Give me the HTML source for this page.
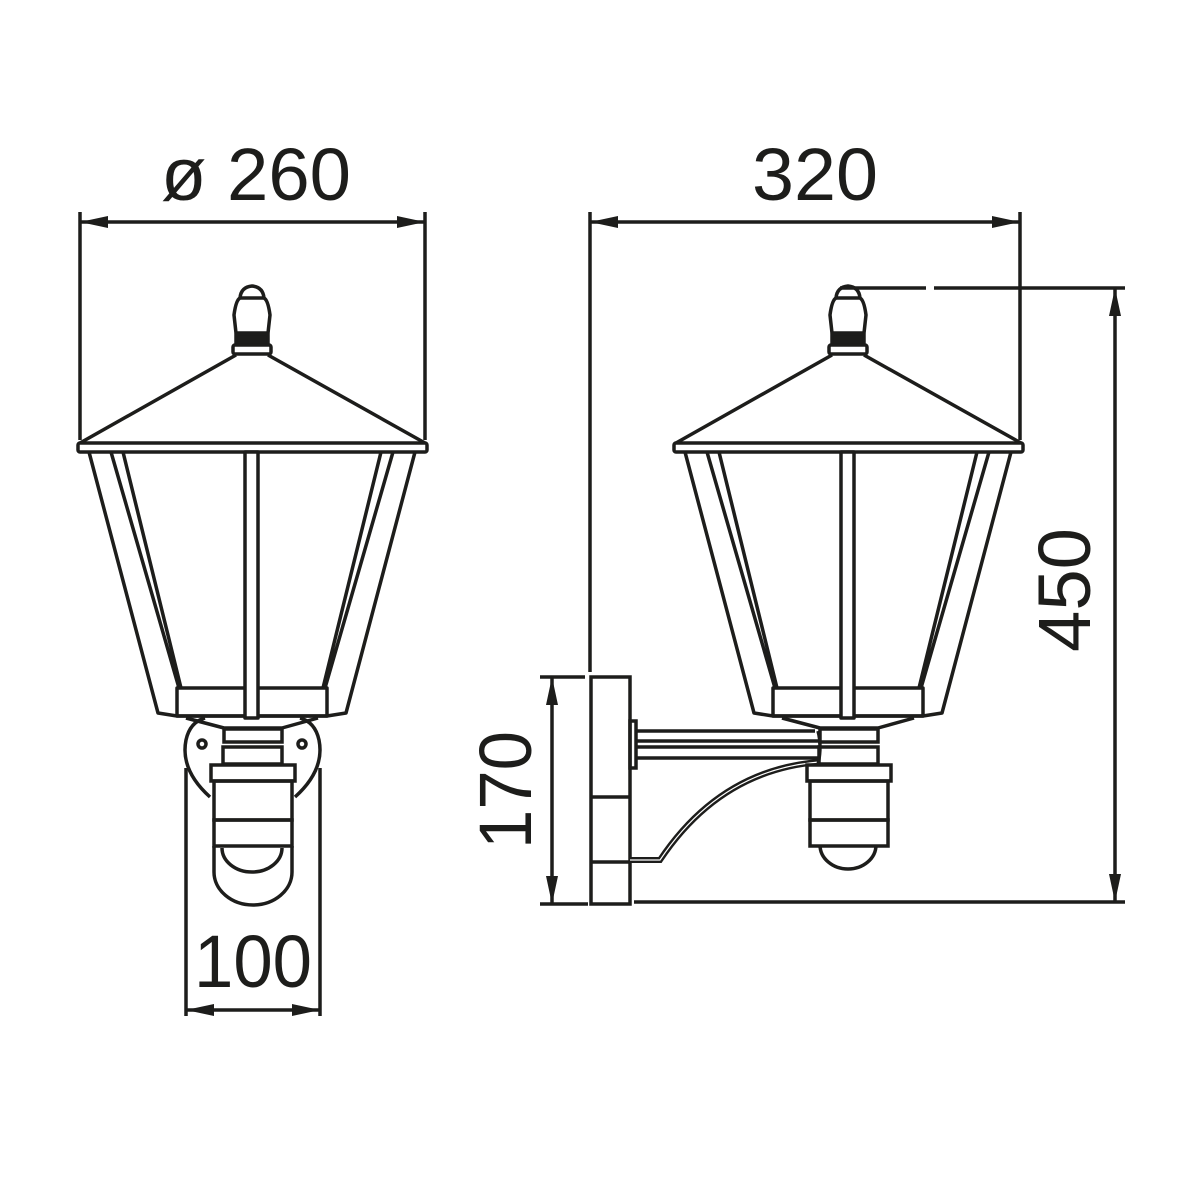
<!DOCTYPE html>
<html><head><style>html,body{margin:0;padding:0;background:#fff}svg{display:block}</style></head>
<body>
<svg width="1200" height="1200" viewBox="0 0 1200 1200" xmlns="http://www.w3.org/2000/svg">
<defs>
<g id="head" fill="none" stroke="#1d1d1b" stroke-width="3.5" stroke-linejoin="round">
  <path d="M236,333 L234,315 Q236,300 240,298 L264,298 Q268,300 270,315 L268,333 Z" fill="#fff"/>
  <path d="M240,298 Q241,287 252,286 Q263,287 264,298"/>
  <rect x="236" y="334" width="32" height="11" fill="#1d1d1b"/>
  <rect x="233" y="345" width="38" height="9" rx="2" fill="#fff"/>
  <path d="M236,355 L80,443 M268,355 L425,443"/>
  <rect x="78" y="443" width="349" height="9" rx="2" fill="#fff"/>
  <path d="M89,452 L158,713 L177,716 L327,716 L346,713 L415,452"/>
  <path d="M111,452 L179,688 M123,452 L181,688 M393,452 L325,688 M381,452 L323,688"/>
  <rect x="177" y="688" width="150" height="28"/>
  <rect x="245" y="452" width="13" height="266" fill="#fff"/>
  <path d="M186,718 L224,728 L282,728 L318,718"/>
</g>
<g id="sens" fill="none" stroke="#1d1d1b" stroke-width="3.5">
  <rect x="224" y="729" width="58" height="13"/>
  <rect x="223" y="747" width="59" height="17"/>
  <rect x="211" y="765" width="84" height="16" fill="#fff"/>
  <rect x="214" y="781" width="78" height="39"/>
  <rect x="214" y="820" width="78" height="26"/>
</g>
</defs>
<g fill="none" stroke="#1d1d1b" stroke-width="3.5">
  <!-- left sensor plate -->
  <path d="M210,797 Q180,770 186,740 Q190,722 205,718 M295,797 Q325,770 319,740 Q315,722 300,718"/>
  <circle cx="202" cy="744" r="4"/><circle cx="302" cy="744" r="4"/>
  <path d="M214,846 L214,872 A39,33 0 0 0 292,872 L292,846"/>
  <path d="M222,848 A30,24 0 0 0 282,848"/>
  <!-- right bracket -->
  <rect x="591" y="677" width="39" height="227"/>
  <path d="M591,797 L630,797 M591,862 L630,862"/>
  <rect x="630" y="721" width="6" height="47"/>
  <path d="M636,731 L815,731 M636,741 L820,741 M636,747 L820,747 M636,758 L818,758"/>
  <path d="M819,762 Q720,770 660,860 L630,860" stroke-width="6"/>
  <path d="M819,762 Q720,770 660,860 L630,860" stroke="#fff" stroke-width="1.2"/>
  <path d="M818,731 Q822,745 818,765"/>
  <path d="M820,845 A28,24 0 0 0 876,845"/>
</g>
<use href="#head"/>
<use href="#head" transform="translate(596,0)"/>
<use href="#sens"/>
<use href="#sens" transform="translate(596,0)"/>
<!-- dimensions -->
<g stroke="#1d1d1b" stroke-width="3.5" fill="none">
  <path d="M80,212 L80,440 M425,212 L425,440 M80,222 L425,222"/>
  <path d="M590,212 L590,672 M1020,212 L1020,440 M590,222 L1020,222"/>
  <path d="M840,288 L926,288 M934,288 L1125,288 M634,902 L1125,902 M1115,288 L1115,902"/>
  <path d="M540,677 L585,677 M540,904 L588,904 M552,677 L552,904"/>
  <path d="M186,768 L186,1016 M320,768 L320,1016 M186,1010 L320,1010"/>
</g>
<g fill="#1d1d1b">
  <path d="M80,222 L108,216 L108,228 Z M425,222 L397,216 L397,228 Z"/>
  <path d="M590,222 L618,216 L618,228 Z M1020,222 L992,216 L992,228 Z"/>
  <path d="M1115,288 L1109,316 L1121,316 Z M1115,902 L1109,874 L1121,874 Z"/>
  <path d="M552,677 L546,705 L558,705 Z M552,904 L546,876 L558,876 Z"/>
  <path d="M186,1010 L214,1004 L214,1016 Z M320,1010 L292,1004 L292,1016 Z"/>
</g>
<g font-family="Liberation Sans, sans-serif" font-size="74" fill="#1d1d1b" text-anchor="middle">
  <text x="256" y="200" textLength="190" lengthAdjust="spacingAndGlyphs">ø 260</text>
  <text x="815" y="200" textLength="126" lengthAdjust="spacingAndGlyphs">320</text>
  <text x="253" y="987" textLength="118" lengthAdjust="spacingAndGlyphs">100</text>
  <text transform="translate(1090,590) rotate(-90)" textLength="124" lengthAdjust="spacingAndGlyphs">450</text>
  <text transform="translate(531,790) rotate(-90)" textLength="118" lengthAdjust="spacingAndGlyphs">170</text>
</g>
</svg>
</body></html>
